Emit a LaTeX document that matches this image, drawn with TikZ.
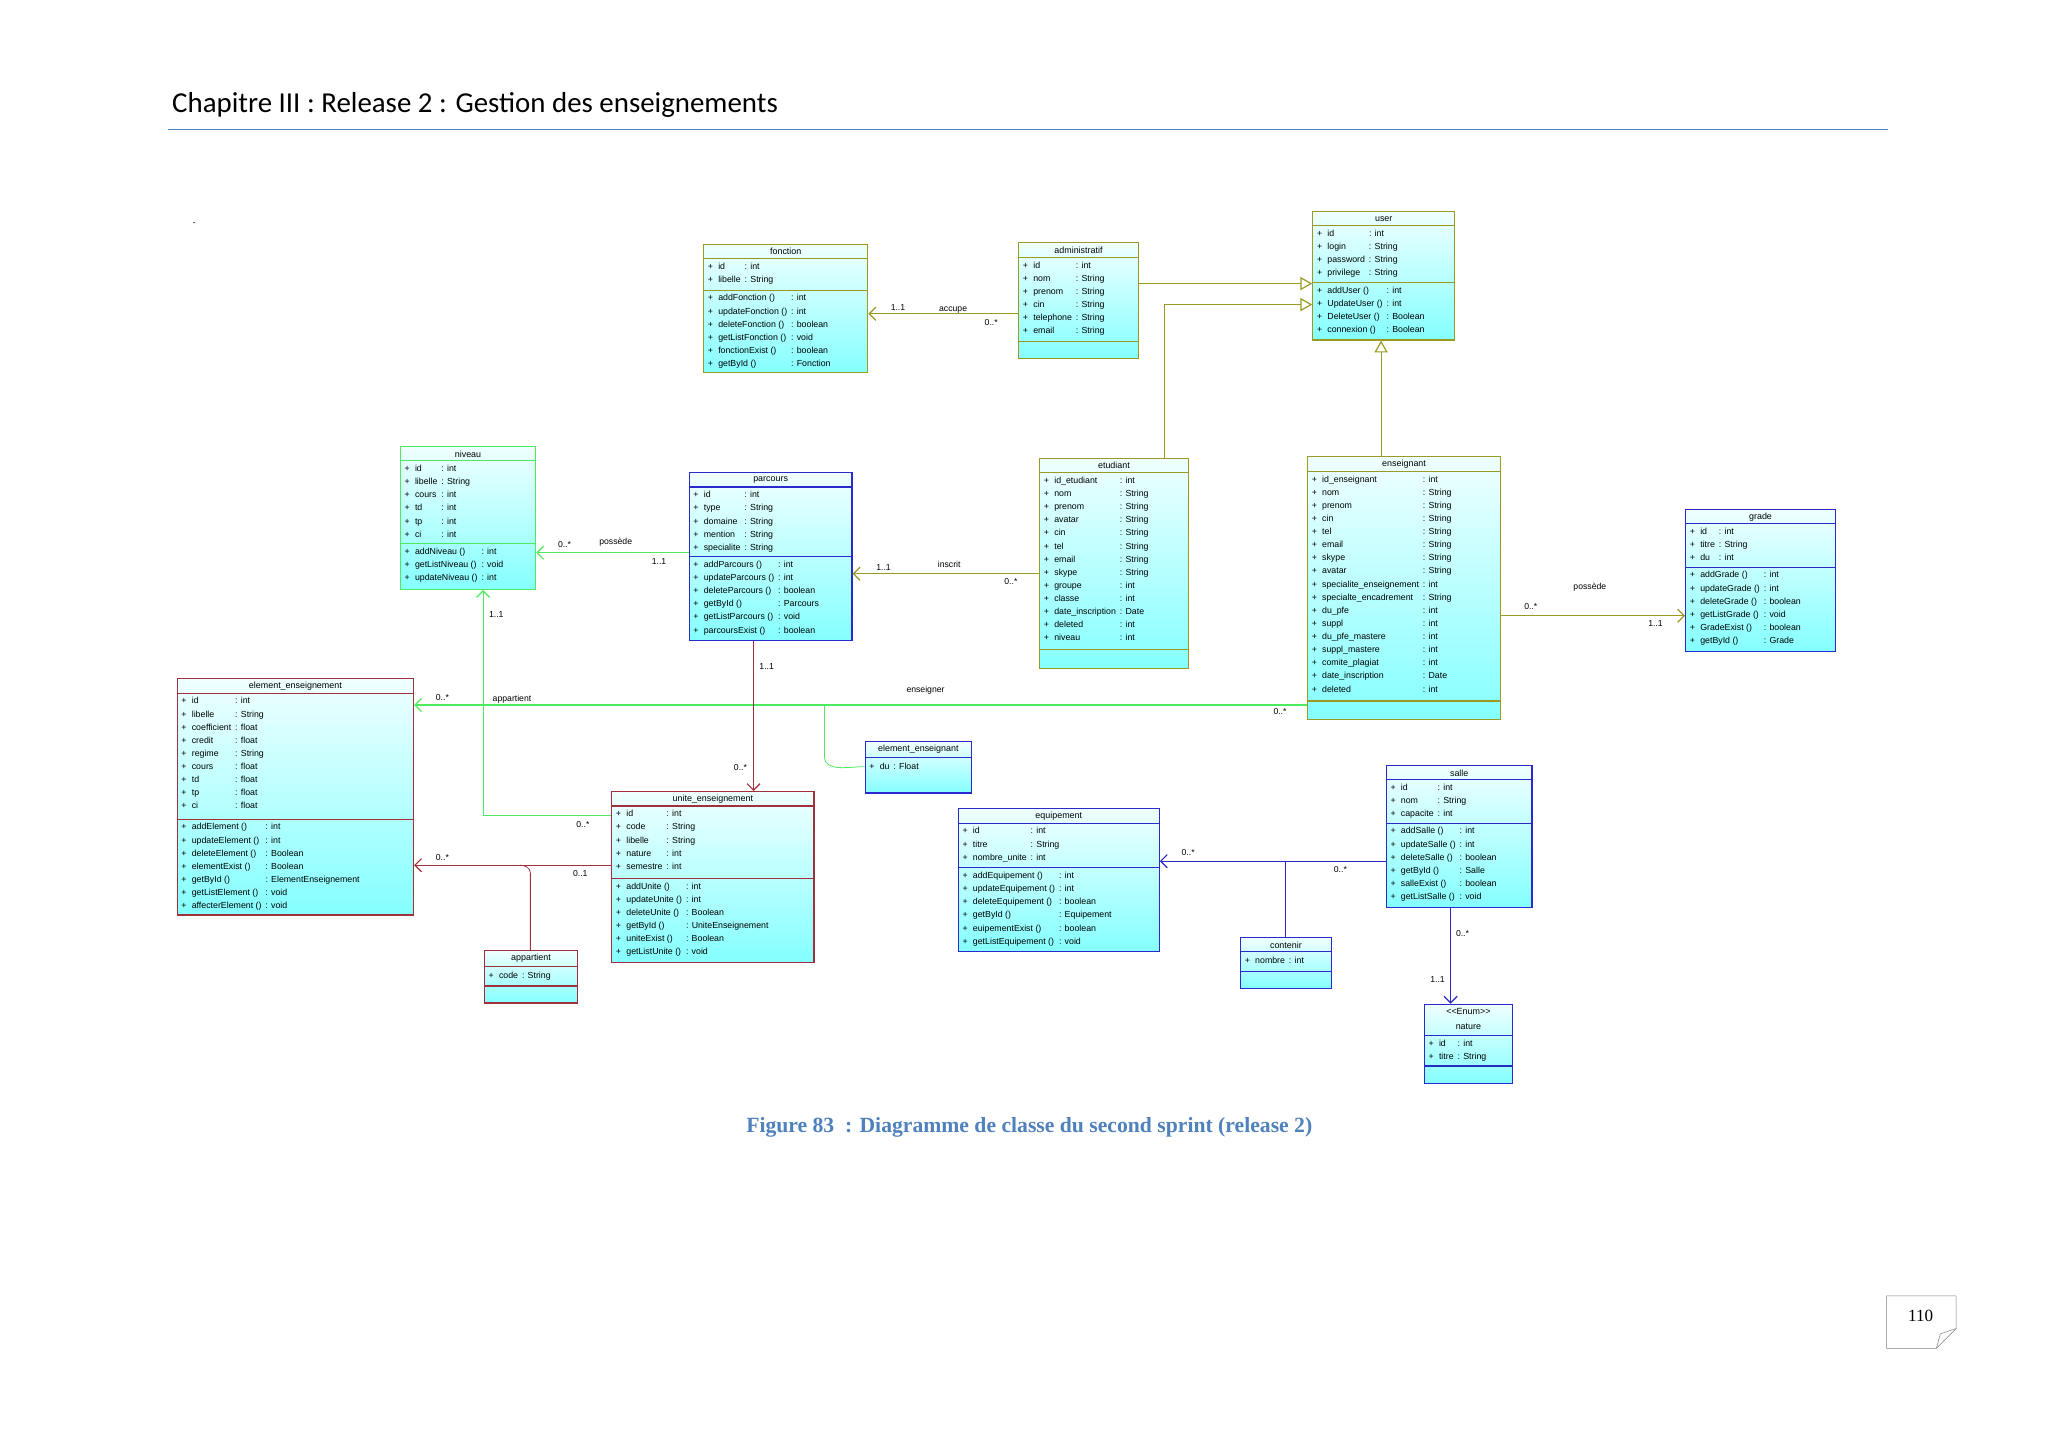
\documentclass[tikz,border=0pt]{standalone}
\usepackage{fontspec}
\setmainfont{Liberation Sans}
\newfontfamily\hdr{Carlito}
\newfontfamily\capf{Liberation Serif}
\usetikzlibrary{arrows.meta,fit,calc}
\definecolor{ol}{HTML}{9A9A22}
\definecolor{gr}{HTML}{4CEA5C}
\definecolor{bl}{HTML}{2A2ACC}
\definecolor{dr}{HTML}{A0303C}
\definecolor{hb}{HTML}{4F81BD}
\tikzset{
 x=1pt,y=-1pt,
 box/.style={inner sep=0pt,line width=0.9pt,top color=cyan!6,bottom color=cyan!48},
 ttl/.style={font=\fontsize{6.8}{10}\selectfont,inner sep=0pt},
 rows/.style={font=\fontsize{6.7}{10}\selectfont,inner sep=0pt,anchor=north west},
 lab/.style={font=\fontsize{6.6}{8}\selectfont,inner sep=0pt},
 assoc/.style={line width=0.9pt,-{Straight Barb[length=5pt,width=10pt]}},
 gen/.style={line width=0.9pt,-{Triangle[open,length=9pt,width=10pt,fill=white]}},
 link/.style={line width=0.6pt},
}
\newcommand\clsbox[7]{%
 \node[box,draw=#6,fit={(#2,#3)(#4,#5)}] (#1) {};
 \node[ttl] at ({(#2+#4)/2},{#3+5.8}) {#7};}
\newcommand\sepl[4]{\draw[#4,line width=0.9pt] (#1,#3)--(#2,#3);}
\newcommand\cont[3]{\node[rows] at ({#1+3},{#2+1}) {\begin{tabular}{@{}l@{\hspace{4pt}}l@{\hspace{3pt}}l@{}}#3\end{tabular}};}
\begin{document}
\begin{tikzpicture}
\path[fill=white] (0,0) rectangle (1560,1103);
\useasboundingbox (0,0) rectangle (1560,1103);
% header
\node[font=\hdr\fontsize{22}{24}\selectfont,anchor=west,inner sep=0] (head) at (131,80) {Chapitre III : Release 2 : Gestion des enseignements};
\draw[hb,line width=0.8pt] (128,99)--(1438,99);
\node[lab] (dash) at (148,171) {-};
% ---------- classes
\clsbox{fonction}{536}{186}{661}{284}{ol}{fonction}
\sepl{536}{661}{197}{ol}\sepl{536}{661}{221}{ol}
\cont{536}{197}{+&id&: int\\+&libelle&: String}
\cont{536}{221}{+&addFonction ()&: int\\+&updateFonction ()&: int\\+&deleteFonction ()&: boolean\\+&getListFonction ()&: void\\+&fonctionExist ()&: boolean\\+&getById ()&: Fonction}
\clsbox{administratif}{776}{185}{867}{273}{ol}{administratif}
\sepl{776}{867}{196}{ol}\sepl{776}{867}{260}{ol}
\cont{776}{196}{+&id&: int\\+&nom&: String\\+&prenom&: String\\+&cin&: String\\+&telephone&: String\\+&email&: String}
\clsbox{user}{1000}{161}{1108}{259}{ol}{user}
\sepl{1000}{1108}{172}{ol}\sepl{1000}{1108}{215}{ol}
\cont{1000}{172}{+&id&: int\\+&login&: String\\+&password&: String\\+&privilege&: String}
\cont{1000}{215}{+&addUser ()&: int\\+&UpdateUser ()&: int\\+&DeleteUser ()&: Boolean\\+&connexion ()&: Boolean}
\clsbox{niveau}{305}{340}{408}{449}{gr}{niveau}
\sepl{305}{408}{351}{gr}\sepl{305}{408}{414}{gr}
\cont{305}{351}{+&id&: int\\+&libelle&: String\\+&cours&: int\\+&td&: int\\+&tp&: int\\+&ci&: int}
\cont{305}{414}{+&addNiveau ()&: int\\+&getListNiveau ()&: void\\+&updateNiveau ()&: int}
\clsbox{parcours}{525}{360}{649}{488}{bl}{parcours}
\sepl{525}{649}{371}{bl}\sepl{525}{649}{424}{bl}
\cont{525}{371}{+&id&: int\\+&type&: String\\+&domaine&: String\\+&mention&: String\\+&specialite&: String}
\cont{525}{424}{+&addParcours ()&: int\\+&updateParcours ()&: int\\+&deleteParcours ()&: boolean\\+&getById ()&: Parcours\\+&getListParcours ()&: void\\+&parcoursExist ()&: boolean}
\clsbox{etudiant}{792}{349}{905}{509}{ol}{etudiant}
\sepl{792}{905}{360}{ol}\sepl{792}{905}{495}{ol}
\cont{792}{360}{+&id\_etudiant&: int\\+&nom&: String\\+&prenom&: String\\+&avatar&: String\\+&cin&: String\\+&tel&: String\\+&email&: String\\+&skype&: String\\+&groupe&: int\\+&classe&: int\\+&date\_inscription&: Date\\+&deleted&: int\\+&niveau&: int}
\clsbox{enseignant}{996}{348}{1143}{548}{ol}{enseignant}
\sepl{996}{1143}{359}{ol}\sepl{996}{1143}{534}{ol}
\cont{996}{359}{+&id\_enseignant&: int\\+&nom&: String\\+&prenom&: String\\+&cin&: String\\+&tel&: String\\+&email&: String\\+&skype&: String\\+&avatar&: String\\+&specialite\_enseignement&: int\\+&specialte\_encadrement&: String\\+&du\_pfe&: int\\+&suppl&: int\\+&du\_pfe\_mastere&: int\\+&suppl\_mastere&: int\\+&comite\_plagiat&: int\\+&date\_inscription&: Date\\+&deleted&: int}
\clsbox{grade}{1284}{388}{1398}{496}{bl}{grade}
\sepl{1284}{1398}{399}{bl}\sepl{1284}{1398}{432}{bl}
\cont{1284}{399}{+&id&: int\\+&titre&: String\\+&du&: int}
\cont{1284}{432}{+&addGrade ()&: int\\+&updateGrade ()&: int\\+&deleteGrade ()&: boolean\\+&getListGrade ()&: void\\+&GradeExist ()&: boolean\\+&getById ()&: Grade}
\clsbox{elens}{135}{517}{315}{697}{dr}{element\_enseignement}
\sepl{135}{315}{528}{dr}\sepl{135}{315}{624}{dr}
\cont{135}{528}{+&id&: int\\+&libelle&: String\\+&coefficient&: float\\+&credit&: float\\+&regime&: String\\+&cours&: float\\+&td&: float\\+&tp&: float\\+&ci&: float}
\cont{135}{624}{+&addElement ()&: int\\+&updateElement ()&: int\\+&deleteElement ()&: Boolean\\+&elementExist ()&: Boolean\\+&getById ()&: ElementEnseignement\\+&getListElement ()&: void\\+&affecterElement ()&: void}
\clsbox{elensg}{659}{565}{740}{604}{bl}{element\_enseignant}
\sepl{659}{740}{577}{bl}
\cont{659}{578}{+&du&: Float}
\clsbox{unite}{466}{603}{620}{733}{dr}{unite\_enseignement}
\sepl{466}{620}{614}{dr}\sepl{466}{620}{669}{dr}
\cont{466}{614}{+&id&: int\\+&code&: String\\+&libelle&: String\\+&nature&: int\\+&semestre&: int}
\cont{466}{669}{+&addUnite ()&: int\\+&updateUnite ()&: int\\+&deleteUnite ()&: Boolean\\+&getById ()&: UniteEnseignement\\+&uniteExist ()&: Boolean\\+&getListUnite ()&: void}
\clsbox{appart}{369}{724}{440}{764}{dr}{appartient}
\sepl{369}{440}{736}{dr}\sepl{369}{440}{751}{dr}
\cont{369}{737}{+&code&: String}
\clsbox{equip}{730}{616}{883}{725}{bl}{equipement}
\sepl{730}{883}{627}{bl}\sepl{730}{883}{661}{bl}
\cont{730}{627}{+&id&: int\\+&titre&: String\\+&nombre\_unite&: int}
\cont{730}{661}{+&addEquipement ()&: int\\+&updateEquipement ()&: int\\+&deleteEquipement ()&: boolean\\+&getById ()&: Equipement\\+&euipementExist ()&: boolean\\+&getListEquipement ()&: void}
\clsbox{contenir}{945}{714}{1014}{753}{bl}{contenir}
\sepl{945}{1014}{725}{bl}\sepl{945}{1014}{740}{bl}
\cont{945}{726}{+&nombre&: int}
\clsbox{salle}{1056}{583}{1167}{691}{bl}{salle}
\sepl{1056}{1167}{594}{bl}\sepl{1056}{1167}{627}{bl}
\cont{1056}{594}{+&id&: int\\+&nom&: String\\+&capacite&: int}
\cont{1056}{627}{+&addSalle ()&: int\\+&updateSalle ()&: int\\+&deleteSalle ()&: boolean\\+&getById ()&: Salle\\+&salleExist ()&: boolean\\+&getListSalle ()&: void}
\clsbox{nature}{1085}{765}{1152}{825}{bl}{<{}<Enum>{}>}
\node[ttl] (naturettl) at (1118.5,782) {nature};
\sepl{1085}{1152}{789}{bl}\sepl{1085}{1152}{812}{bl}
\cont{1085}{789}{+&id&: int\\+&titre&: String}
% ---------- connectors
\draw[gen,ol] (administratif.east |- 0,216) -- (user.west |- 0,216);
\draw[gen,ol] (etudiant.north -| 887,0) -- (887,232) -- (user.west |- 0,232);
\draw[gen,ol] (enseignant.north -| 1052,0) -- (user.south -| 1052,0);
\draw[assoc,ol] (administratif.west |- 0,239) -- (fonction.east |- 0,239);
\node[lab] (l1) at (684,234) {1..1};
\node[lab] (l2) at (726,236) {accupe};
\node[lab] (l3) at (755,246) {0..*};
\draw[assoc,gr] (parcours.west |- 0,421) -- (niveau.east |- 0,421);
\node[lab] (l4) at (430,415) {0..*};
\node[lab] (l5) at (469,413) {possède};
\node[lab] (l6) at (502,428) {1..1};
\draw[assoc,ol] (etudiant.west |- 0,437) -- (parcours.east |- 0,437);
\node[lab] (l7) at (673,432) {1..1};
\node[lab] (l8) at (723,430) {inscrit};
\node[lab] (l9) at (770,443) {0..*};
\draw[assoc,ol] (enseignant.east |- 0,469) -- (grade.west |- 0,469);
\node[lab] (l10) at (1211,447) {possède};
\node[lab] (l11) at (1166,462) {0..*};
\node[lab] (l12) at (1261,475) {1..1};
\draw[assoc,gr] (enseignant.west |- 0,537) -- (elens.east |- 0,537);
\node[lab] (l13) at (705,526) {enseigner};
\node[lab] (l14) at (337,531) {0..*};
\node[lab] (l15) at (975,542) {0..*};
\coordinate (ae) at (628,537);
\draw[link,gr] (ae) -- (628,576) to[out=-90,in=180] (elensg.west |- 0,584);
\draw[assoc,gr] (unite.west |- 0,621) -- (368,621) -- (niveau.south -| 368,0);
\node[lab] (l16) at (378,468) {1..1};
\node[lab] (l17) at (444,628) {0..*};
\node[lab] (l18) at (390,533) {appartient};
\draw[assoc,dr] (parcours.south -| 574,0) -- (unite.north -| 574,0);
\node[lab] (l19) at (584,508) {1..1};
\node[lab] (l20) at (564,585) {0..*};
\draw[assoc,dr] (unite.west |- 0,659) -- (elens.east |- 0,659);
\node[lab] (l21) at (337,653) {0..*};
\node[lab] (l22) at (442,665) {0..1};
\draw[link,dr] (appart.north -| 404,0) -- (404,665) to[out=90,in=0] (396,659);
\draw[assoc,bl] (salle.west |- 0,656) -- (equip.east |- 0,656);
\node[lab] (l23) at (905,649) {0..*};
\node[lab] (l24) at (1021,662) {0..*};
\draw[link,bl,line width=0.9pt] (979,656) -- (contenir.north -| 979,0);
\draw[assoc,bl] (salle.south -| 1105,0) -- (nature.north -| 1105,0);
\node[lab] (l25) at (1114,711) {0..*};
\node[lab] (l26) at (1095,746) {1..1};
% caption
\node[font=\capf\bfseries\fontsize{16.5}{18}\selectfont,text=hb,inner sep=0] (cap) at (784,859) {Figure 83 \ : Diagramme de classe du second sprint (release 2)};
% page number
\draw[gray,fill=white] (1437,987) -- (1490,987) -- (1490,1012) -- (1475,1027) -- (1437,1027) -- cycle;
\draw[gray] (1490,1012) -- (1478,1016) -- (1475,1027);
\node[font=\capf\fontsize{13}{15}\selectfont,inner sep=0] (pg) at (1463,1002) {110};
\end{tikzpicture}
\end{document}
